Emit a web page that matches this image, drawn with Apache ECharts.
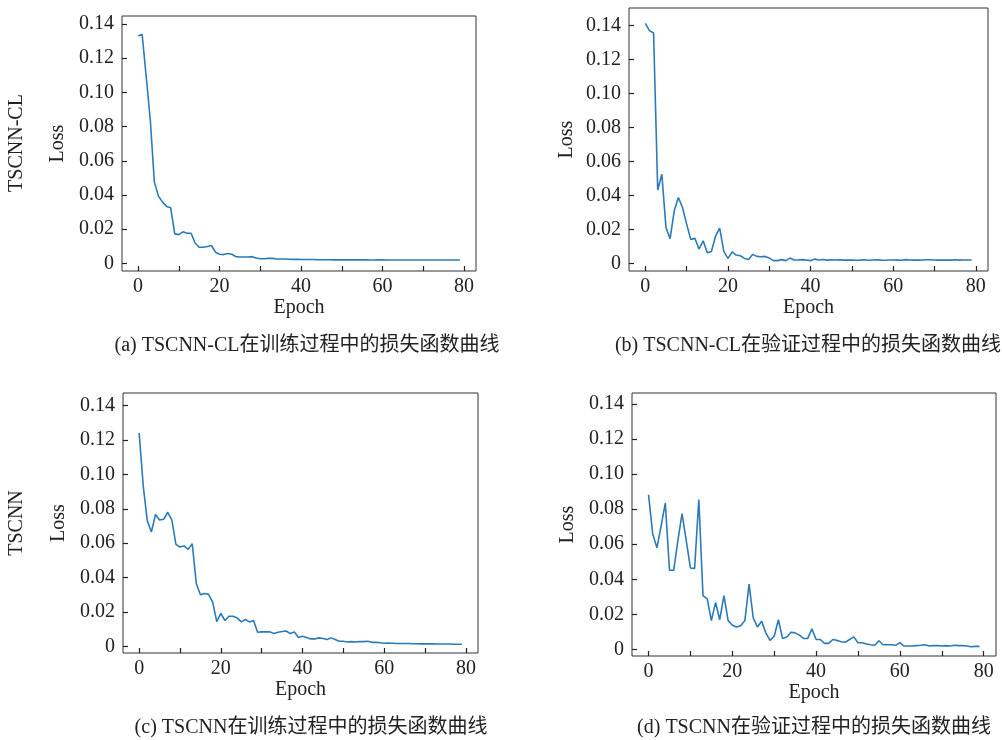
<!DOCTYPE html>
<html>
<head>
<meta charset="utf-8">
<script src="https://cdn.jsdelivr.net/npm/echarts@6/dist/echarts.min.js"></script>
<style>
html,body{margin:0;padding:0;background:#fff;}
#chart{width:1002px;height:740px;}
</style>
</head>
<body>
<div id="chart"></div>
<script>
// ---- data ----
const epochs = [0,1,2,3,4,5,6,7,8,9,10,11,12,13,14,15,16,17,18,19,20,21,22,23,24,25,26,27,28,29,30,31,32,33,34,35,36,37,38,39,40,41,42,43,44,45,46,47,48,49,50,51,52,53,54,55,56,57,58,59,60,61,62,63,64,65,66,67,68,69,70,71,72,73,74,75,76,77,78,79];

const lossTrainCL = [0.1332,0.1338,0.109,0.0837,0.0475,0.0393,0.0358,0.0333,0.0325,0.0172,
0.0168,0.0184,0.0176,0.0176,0.0119,0.0094,0.0094,0.0098,0.0104,0.0065,
0.0053,0.0051,0.0057,0.0053,0.0039,0.0037,0.0037,0.0037,0.0039,0.0031,
0.0027,0.0027,0.0029,0.0029,0.0025,0.0025,0.0025,0.0024,0.0023,0.0023,
0.0022,0.0022,0.0022,0.0022,0.0021,0.0021,0.0021,0.0021,0.0020,0.0020,
0.0020,0.0020,0.0020,0.0020,0.0020,0.0020,0.0020,0.0019,0.0019,0.0020,
0.0020,0.0019,0.0019,0.0019,0.0019,0.0019,0.0019,0.0019,0.0019,0.0019,
0.0019,0.0019,0.0019,0.0019,0.0019,0.0019,0.0019,0.0019,0.0019,0.0019];

const lossValCL = [0.1413,0.137,0.1356,0.0432,0.0524,0.0211,0.0145,0.0309,0.0387,0.0329,
0.0231,0.0141,0.0147,0.0084,0.0133,0.0063,0.0070,0.0160,0.0207,0.0070,
0.0029,0.0067,0.0049,0.0045,0.0029,0.0023,0.0053,0.0041,0.0039,0.0041,
0.0031,0.0016,0.0016,0.0022,0.0016,0.0031,0.0020,0.0020,0.0022,0.0020,
0.0016,0.0025,0.0020,0.0023,0.0019,0.0021,0.0020,0.0021,0.0019,0.0019,
0.0020,0.0018,0.0019,0.0021,0.0018,0.0020,0.0021,0.0019,0.0018,0.0020,
0.0020,0.0019,0.0018,0.0022,0.0020,0.0019,0.0019,0.0020,0.0021,0.0021,
0.0020,0.0019,0.0019,0.0020,0.0019,0.0021,0.0019,0.0020,0.0020,0.0020];

const lossTrain = [0.1241,0.0934,0.0730,0.0665,0.0767,0.0735,0.0739,0.0780,0.0735,0.0593,
0.0578,0.0584,0.0564,0.0597,0.0364,0.0300,0.0307,0.0302,0.0257,0.0144,
0.0191,0.0150,0.0175,0.0175,0.0165,0.0142,0.0156,0.0142,0.0150,0.0082,
0.0084,0.0084,0.0084,0.0074,0.0082,0.0086,0.0089,0.0074,0.0084,0.0051,
0.0058,0.0051,0.0043,0.0043,0.0049,0.0045,0.0039,0.0049,0.0039,0.0029,
0.0029,0.0025,0.0027,0.0025,0.0027,0.0027,0.0029,0.0023,0.0023,0.0021,
0.0018,0.0019,0.0018,0.0016,0.0016,0.0016,0.0016,0.0015,0.0015,0.0014,
0.0014,0.0014,0.0014,0.0013,0.0013,0.0013,0.0013,0.0012,0.0012,0.0012];

const lossVal = [0.0883,0.0658,0.0579,0.0705,0.0835,0.0451,0.0451,0.0620,0.0774,0.0620,
0.0464,0.0462,0.0855,0.0306,0.0288,0.0164,0.0267,0.0169,0.0306,0.0164,
0.0137,0.0128,0.0135,0.0165,0.0372,0.0179,0.0128,0.0160,0.0094,0.0051,
0.0075,0.0169,0.0062,0.0070,0.0098,0.0094,0.0081,0.0062,0.0062,0.0117,
0.0056,0.0056,0.0034,0.0034,0.0056,0.0051,0.0043,0.0041,0.0056,0.0071,
0.0038,0.0038,0.0030,0.0026,0.0023,0.0049,0.0026,0.0026,0.0026,0.0023,
0.0038,0.0019,0.0019,0.0019,0.0021,0.0023,0.0026,0.0019,0.0021,0.0021,
0.0019,0.0021,0.0019,0.0023,0.0021,0.0021,0.0019,0.0015,0.0017,0.0017];

const xTickValues = [0,10,20,30,40,50,60,70,80];
const xLabelValues = [0,20,40,60,80];
const yTickValues = [0,0.02,0.04,0.06,0.08,0.10,0.12,0.14];

const rowLabels = ['TSCNN-CL','TSCNN'];
const captions = ['(a) TSCNN-CL在训练过程中的损失函数曲线','(b) TSCNN-CL在验证过程中的损失函数曲线',
                  '(c) TSCNN在训练过程中的损失函数曲线','(d) TSCNN在验证过程中的损失函数曲线'];
const xName = 'Epoch';
const yName = 'Loss';

// ---- layout ----
const FONT = "'Liberation Serif', 'Noto Sans CJK SC', serif";
const TXT = '#222';
const panels = [
  {series: lossTrainCL, grid:{left:122, top:16, width:354, height:255}, ymin:-0.0045, ymax:0.1447, gap:54},
  {series: lossValCL,   grid:{left:629, top:8,  width:359, height:263}, ymin:-0.0045, ymax:0.1503, gap:52},
  {series: lossTrain,   grid:{left:123, top:393, width:355, height:260}, ymin:-0.0039, ymax:0.1474, gap:54},
  {series: lossVal,     grid:{left:632, top:393, width:364, height:263}, ymin:-0.0038, ymax:0.1463, gap:54}
];

const grid = [], xAxis = [], yAxis = [], series = [];
panels.forEach((p, k) => {
  grid.push(Object.assign({show:true, borderColor:'#333', borderWidth:1, containLabel:false}, p.grid));
  xAxis.push({
    type:'value', gridIndex:k, min:-3.95, max:82.95,
    name:xName, nameLocation:'middle', nameGap:26,
    nameTextStyle:{fontFamily:FONT, fontSize:20, color:TXT},
    axisLine:{show:false, onZero:false}, splitLine:{show:false},
    axisTick:{show:true, inside:true, length:5, lineStyle:{color:'#222', width:1.2}, customValues:xTickValues},
    axisLabel:{show:true, margin:6, fontFamily:FONT, fontSize:20, color:TXT, customValues:xLabelValues,
               formatter:v=>String(v)}
  });
  yAxis.push({
    type:'value', gridIndex:k, min:p.ymin, max:p.ymax,
    name:yName, nameLocation:'middle', nameGap:p.gap, nameRotate:90,
    nameTextStyle:{fontFamily:FONT, fontSize:20, color:TXT},
    axisLine:{show:false, onZero:false}, splitLine:{show:false},
    axisTick:{show:true, inside:true, length:5, lineStyle:{color:'#222', width:1.2}, customValues:yTickValues},
    axisLabel:{show:true, margin:8, fontFamily:FONT, fontSize:20, color:TXT, customValues:yTickValues,
               formatter:v=> Math.abs(v) < 1e-9 ? '0' : v.toFixed(2)}
  });
  series.push({
    type:'line', xAxisIndex:k, yAxisIndex:k, showSymbol:false, symbol:'none',
    lineStyle:{color:'#2b7bb9', width:1.6}, itemStyle:{color:'#2b7bb9'},
    data: epochs.map((e,i)=>[e, p.series[i]]), animation:false
  });
});

const graphic = [
  {type:'text', x:17, y:143, rotation:Math.PI/2, style:{text:rowLabels[0], font:"20px "+FONT, fill:TXT, align:'center', verticalAlign:'middle'}},
  {type:'text', x:17, y:523, rotation:Math.PI/2, style:{text:rowLabels[1], font:"20px "+FONT, fill:TXT, align:'center', verticalAlign:'middle'}},
  {type:'text', x:307, y:346, style:{text:captions[0], font:"20px "+FONT, fill:TXT, align:'center', verticalAlign:'middle'}},
  {type:'text', x:808, y:346, style:{text:captions[1], font:"20px "+FONT, fill:TXT, align:'center', verticalAlign:'middle'}},
  {type:'text', x:311, y:728, style:{text:captions[2], font:"20px "+FONT, fill:TXT, align:'center', verticalAlign:'middle'}},
  {type:'text', x:814, y:728, style:{text:captions[3], font:"20px "+FONT, fill:TXT, align:'center', verticalAlign:'middle'}}
];

const chart = echarts.init(document.getElementById('chart'), null, {renderer:'canvas'});
chart.setOption({animation:false, backgroundColor:'#fff', grid, xAxis, yAxis, series, graphic});
</script>
</body>
</html>
